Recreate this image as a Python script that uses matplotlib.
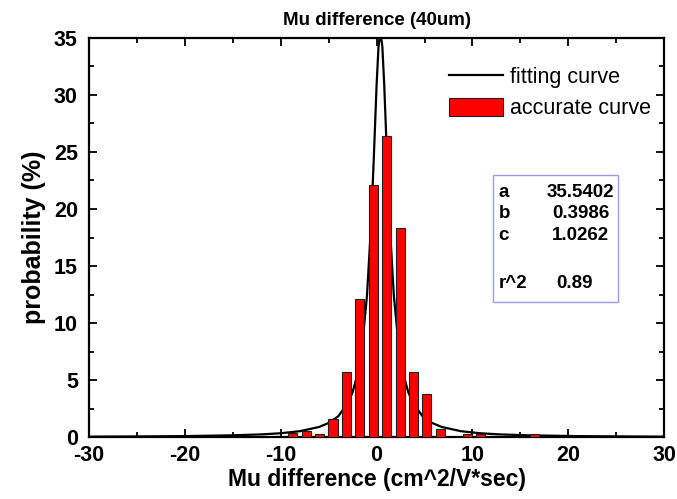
import matplotlib
matplotlib.use("Agg")
import matplotlib.pyplot as plt
import matplotlib.ticker as ticker
from matplotlib.patches import Rectangle

plt.rcParams["font.family"] = ["Liberation Sans", "DejaVu Sans"]
plt.rcParams["axes.unicode_minus"] = False

# histogram bars (bin centre, probability %)
bin_centers = [-8.75, -7.35, -5.95, -4.55, -3.15, -1.75, -0.35, 1.05, 2.45,
               3.85, 5.25, 6.65, 9.45, 10.85, 16.45]
bin_heights = [0.38, 0.55, 0.3, 1.6, 5.7, 12.1, 22.1, 26.4, 18.3,
               5.7, 3.8, 0.7, 0.3, 0.3, 0.3]

# fitting curve
fit_x = [-30, -25, -20, -15, -12, -10, -8, -6, -5, -4, -3, -2.5, -2, -1.5, -1,
         -0.6, -0.3, 0, 0.2, 0.4, 0.6, 0.8, 1.1, 1.4, 1.8, 2.3, 2.8, 3.3, 3.8,
         4.8, 5.8, 6.8, 8.8, 10.8, 12.8, 15.8, 20.8, 25.8, 30]
fit_y = [0.04, 0.06, 0.09, 0.16, 0.24, 0.34, 0.52, 0.89, 1.24, 1.83, 2.97, 3.95,
         5.49, 8.02, 12.42, 18.23, 24.25, 30.85, 34.24, 35.54, 34.24, 30.85,
         24.25, 18.23, 12.42, 8.02, 5.49, 3.95, 2.97, 1.83, 1.24, 0.89, 0.52,
         0.34, 0.24, 0.16, 0.09, 0.06, 0.04]

fit_params = [("a", "35.5402"), ("b", "0.3986"), ("c", "1.0262"), ("r^2", "0.89")]

fig = plt.figure(figsize=(6.77, 4.99), dpi=100)
ax = fig.add_axes([0.1315, 0.124, 0.8495, 0.8])

ax.plot(fit_x, fit_y, color="black", linewidth=1.6, label="fitting curve", zorder=2)
ax.bar(bin_centers, bin_heights, width=0.95, color="#ff0000", edgecolor="#202020",
       linewidth=0.8, label="accurate curve", zorder=3)

ax.set_xlim(-30, 30)
ax.set_ylim(0, 35)
ax.xaxis.set_major_locator(ticker.MultipleLocator(10))
ax.xaxis.set_minor_locator(ticker.MultipleLocator(5))
ax.yaxis.set_major_locator(ticker.MultipleLocator(5))
ax.yaxis.set_minor_locator(ticker.MultipleLocator(2.5))
ax.tick_params(which="both", direction="in", top=True, right=True, width=1.3)
ax.tick_params(which="major", length=6, labelsize=15.5)
ax.tick_params(axis="x", which="major", pad=6)
ax.tick_params(axis="y", which="major", pad=8)
ax.tick_params(which="minor", length=3.5)
for lbl in ax.get_xticklabels() + ax.get_yticklabels():
    lbl.set_fontweight("bold")
for sp in ax.spines.values():
    sp.set_linewidth(1.6)

ax.set_title("Mu difference (40um)", fontsize=13.5, fontweight="bold", pad=9)
ax.set_xlabel("Mu difference (cm^2/V*sec)", fontsize=16.5, fontweight="bold", labelpad=1)
ax.set_ylabel("probability (%)", fontsize=18, fontweight="bold", labelpad=6)

ax.legend(loc="upper right", bbox_to_anchor=(1.0, 0.96), frameon=False,
          fontsize=15.5, handlelength=2.5, handleheight=0.9, handletextpad=0.35,
          labelspacing=0.45, borderaxespad=0.2)

ax.add_patch(Rectangle((0.703, 0.338), 0.217, 0.319, transform=ax.transAxes,
                       fill=False, edgecolor="#9a9ae6", linewidth=1.0, zorder=4))
rows_y = [0.614, 0.561, 0.506, 0.386]
vals_x = [0.795, 0.805, 0.805, 0.812]
for (name, val), yy, vx in zip(fit_params, rows_y, vals_x):
    ax.text(0.712, yy, name, transform=ax.transAxes, fontsize=13.5,
            fontweight="bold", va="center", ha="left")
    ax.text(vx, yy, val, transform=ax.transAxes, fontsize=13.5,
            fontweight="bold", va="center", ha="left")

fig.savefig("out.png", dpi=100)
